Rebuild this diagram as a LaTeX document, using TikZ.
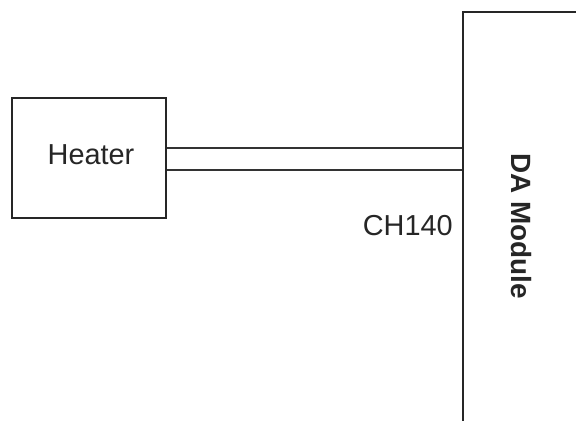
\documentclass[tikz,border=0pt]{standalone}
\usepackage{fontspec}
\setmainfont{Liberation Sans}
\usetikzlibrary{positioning}

\begin{document}
\begin{tikzpicture}[x=1bp, y=-1bp,
  box/.style={draw=black!85, line width=1.3pt, rectangle, inner sep=0pt},
  lbl/.style={font=\fontsize{29}{34}\selectfont, text=black!85, inner sep=0pt},
  wire/.style={draw=black!80, line width=1.3pt}]

% Page
\clip (0,0) rectangle (576,420);

% Heater block
\node[box, minimum width=154bp, minimum height=120bp] (heater) at (89,158) {};
\node[lbl] (heatertext) at (91,155) {Heater};

% DA module (runs off the page to the right and bottom)
\node[box, minimum width=116bp, minimum height=428bp] (da) at (521,226) {};
\node[lbl, font=\fontsize{28}{34}\selectfont\bfseries, rotate=-90] (datext) at (521,226) {DA Module};

% Two wires from heater to module
\draw[wire] ([yshift=10bp]heater.east) -- ([yshift=10bp]heater.east -| da.west);
\draw[wire] ([yshift=-12bp]heater.east) -- ([yshift=-12bp]heater.east -| da.west);

% Channel label
\node[lbl, anchor=east] (ch) at (453,226) {CH140};

\end{tikzpicture}
\end{document}
